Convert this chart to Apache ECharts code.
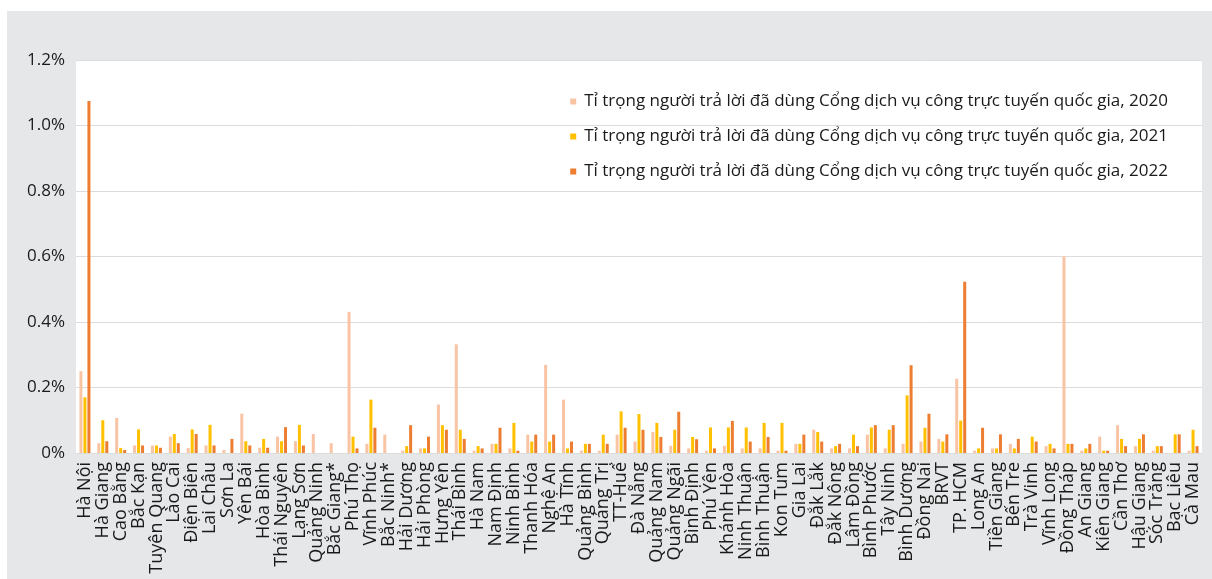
<!DOCTYPE html>
<html>
<head>
<meta charset="utf-8">
<script src="https://cdn.jsdelivr.net/npm/echarts@6/dist/echarts.min.js"></script>
<style>
  html, body { margin: 0; padding: 0; background: #ffffff; }
  #chart { position: absolute; left: 7px; top: 11px; width: 1205px; height: 568px; background: #E6E7E8; }
</style>
</head>
<body>
<div id="chart"></div>
<script>
const categories = ["Hà Nội","Hà Giang","Cao Bằng","Bắc Kạn","Tuyên Quang","Lào Cai","Điện Biên","Lai Châu","Sơn La","Yên Bái","Hòa Bình","Thái Nguyên","Lạng Sơn","Quảng Ninh","Bắc Giang*","Phú Thọ","Vĩnh Phúc","Bắc Ninh*","Hải Dương","Hải Phòng","Hưng Yên","Thái Bình","Hà Nam","Nam Định","Ninh Bình","Thanh Hóa","Nghệ An","Hà Tĩnh","Quảng Bình","Quảng Trị","TT-Huế","Đà Nẵng","Quảng Nam","Quảng Ngãi","Bình Định","Phú Yên","Khánh Hòa","Ninh Thuận","Bình Thuận","Kon Tum","Gia Lai","Đắk Lắk","Đắk Nông","Lâm Đồng","Bình Phước","Tây Ninh","Bình Dương","Đồng Nai","BRVT","TP. HCM","Long An","Tiền Giang","Bến Tre","Trà Vinh","Vĩnh Long","Đồng Tháp","An Giang","Kiên Giang","Cần Thơ","Hậu Giang","Sóc Trăng","Bạc Liêu","Cà Mau"];

const v2020 = [0.25,0.03,0.107,0.023,0.023,0.05,0.015,0.023,0.009,0.12,0.016,0.05,0.036,0.058,0.03,0.431,0.028,0.056,0.007,0.014,0.148,0.332,0.007,0.028,0.014,0.056,0.269,0.163,0.007,0.007,0.056,0.035,0.064,0.022,0.014,0.007,0.022,0.014,0.014,0.007,0.028,0.071,0.014,0.014,0.056,0.014,0.028,0.035,0.043,0.227,0.007,0.014,0.028,0,0.021,0.6,0.007,0.05,0.085,0.021,0.007,0,0.007];

const v2021 = [0.17,0.10,0.015,0.072,0.023,0.058,0.072,0.086,0,0.036,0.043,0.036,0.086,0,0,0.05,0.163,0,0.021,0.014,0.085,0.071,0.021,0.028,0.092,0.035,0.035,0.014,0.028,0.056,0.127,0.119,0.092,0.071,0.049,0.078,0.078,0.078,0.092,0.092,0.028,0.064,0.021,0.056,0.078,0.071,0.176,0.077,0.035,0.099,0.014,0.014,0.014,0.05,0.028,0.028,0.014,0.007,0.043,0.043,0.021,0.057,0.071];

const v2022 = [1.075,0.036,0.009,0.023,0.016,0.03,0.058,0.023,0.043,0.023,0.016,0.079,0.023,0,0,0.014,0.077,0,0.085,0.05,0.071,0.043,0.014,0.077,0.007,0.056,0.056,0.035,0.028,0.028,0.077,0.071,0.049,0.126,0.042,0.014,0.098,0.035,0.049,0.007,0.056,0.035,0.028,0.021,0.085,0.085,0.268,0.12,0.057,0.523,0.077,0.057,0.043,0.035,0.014,0.028,0.028,0.007,0.021,0.057,0.021,0.057,0.021];

const seriesNames = [
  "Tỉ trọng người trả lời đã dùng Cổng dịch vụ công trực tuyến quốc gia, 2020",
  "Tỉ trọng người trả lời đã dùng Cổng dịch vụ công trực tuyến quốc gia, 2021",
  "Tỉ trọng người trả lời đã dùng Cổng dịch vụ công trực tuyến quốc gia, 2022"
];
const colors = ["#F8C4A4", "#FFC000", "#ED7D31"];
const yTicks = { min: 0, max: 1.2, interval: 0.2 };

const FONT = "'Open Sans', 'Noto Sans', sans-serif";
const chart = echarts.init(document.getElementById('chart'), null, { renderer: 'canvas' });

const dataSets = [v2020, v2021, v2022];
chart.setOption({
  animation: false,
  textStyle: { fontFamily: FONT },
  color: colors,
  grid: {
    left: 69, right: 10, top: 49, bottom: 126,
    show: true, backgroundColor: '#ffffff', borderWidth: 0
  },
  legend: {
    orient: 'vertical',
    right: 44,
    top: 81,
    padding: 0,
    itemWidth: 6,
    itemHeight: 6,
    itemGap: 16,
    icon: 'rect',
    textStyle: { fontSize: 17, color: '#1a1a1a', fontFamily: FONT, lineHeight: 19, padding: [0, 0, 0, 3] },
    data: seriesNames
  },
  xAxis: {
    type: 'category',
    data: categories,
    axisLine: { show: false },
    axisTick: { show: false },
    axisLabel: {
      interval: 0,
      rotate: 90,
      fontSize: 18,
      color: '#1a1a1a',
      margin: 9,
      fontFamily: FONT
    }
  },
  yAxis: {
    type: 'value',
    min: yTicks.min,
    max: yTicks.max,
    interval: yTicks.interval,
    axisLine: { show: false },
    axisTick: { show: false },
    splitLine: { lineStyle: { color: '#DCDCDC', width: 1 } },
    axisLabel: {
      fontSize: 17,
      color: '#1a1a1a',
      margin: 11,
      fontFamily: FONT,
      formatter: v => (v === 0 ? '0%' : v.toFixed(1) + '%')
    }
  },
  series: dataSets.map((d, i) => ({
    name: seriesNames[i],
    type: 'bar',
    data: d,
    barWidth: 3,
    barGap: '33%',
    itemStyle: { color: colors[i] }
  }))
});
</script>
</body>
</html>
